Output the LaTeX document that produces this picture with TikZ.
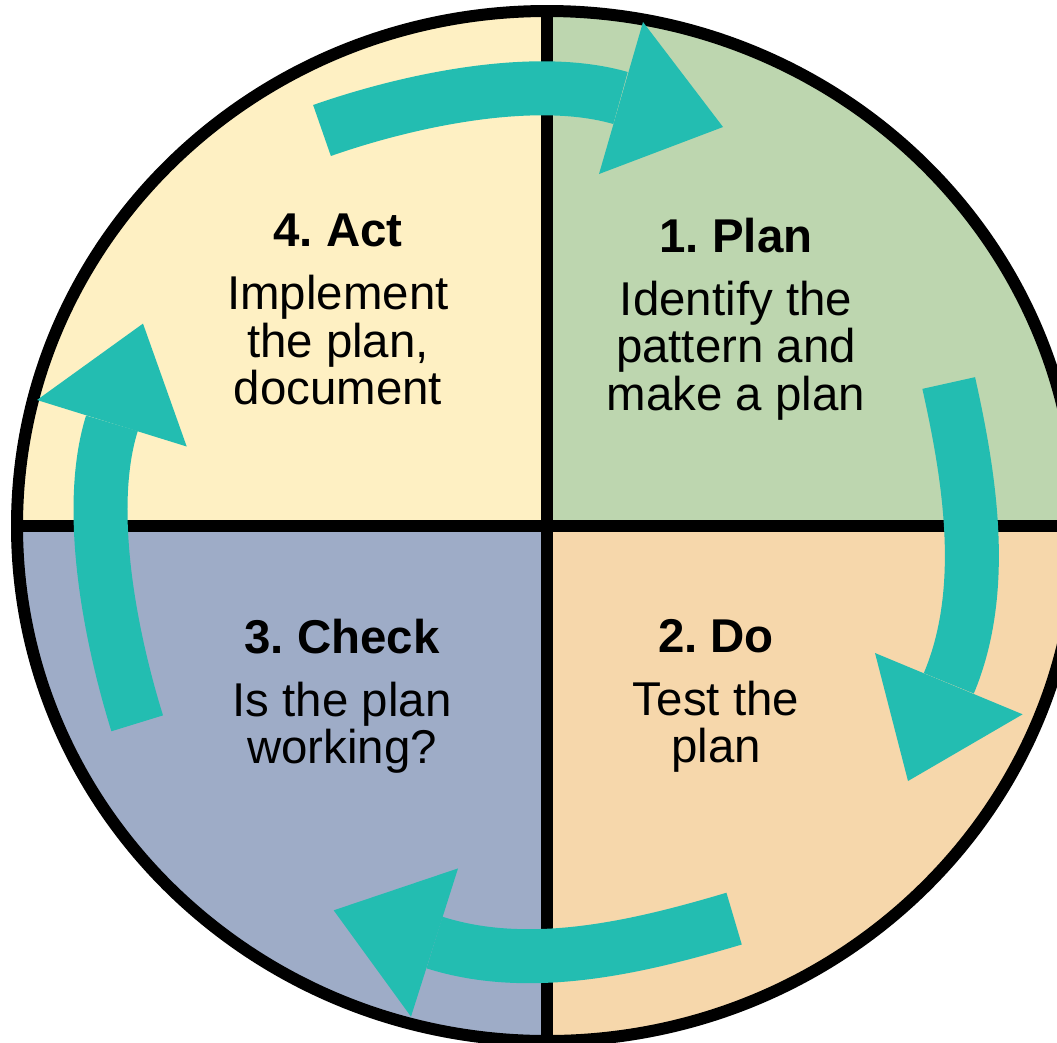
\documentclass[tikz,border=0pt]{standalone}
\usepackage{fontspec}
\setmainfont{Liberation Sans}
\frenchspacing

\definecolor{actyellow}{HTML}{FEF0C3}
\definecolor{plangreen}{HTML}{BDD6AF}
\definecolor{dopeach}{HTML}{F6D7AB}
\definecolor{checkblue}{HTML}{9EACC7}
\definecolor{cycleteal}{HTML}{23BDB1}

\tikzset{
  stage/.style={align=center, inner sep=0pt, anchor=north,
    font=\fontsize{27}{27}\selectfont},
  shaft/.style={draw=cycleteal, line width=1.08cm},
  head/.style={fill=cycleteal},
}

\begin{document}
\begin{tikzpicture}[x=0.02cm, y=-0.02cm]
  \useasboundingbox (0,0) rectangle (1057,1042);
  \clip (0,0) rectangle (1057,1042);

  % four quadrants
  \begin{scope}
    \clip (547,526) ellipse [x radius=530, y radius=515];
    \fill [actyellow] (0,0) rectangle (547,526);
    \fill [plangreen] (547,0) rectangle (1100,526);
    \fill [checkblue] (0,526) rectangle (547,1100);
    \fill [dopeach] (547,526) rectangle (1100,1100);
    \draw [line width=0.24cm] (547,0) -- (547,1100);
    \draw [line width=0.24cm] (0,526) -- (1100,526);
  \end{scope}
  \draw [line width=0.24cm] (547,526) ellipse [x radius=530, y radius=515];

  % texts
  \node [stage] (act) at (338,214) {\textbf{4. Act}\\[8.7pt]Implement\\the plan,\\document};
  \node [stage] (plan) at (736,218) {\textbf{1. Plan}\\[8.7pt]Identify the\\pattern and\\make a plan};
  \node [stage] (check) at (342,619) {\textbf{3. Check}\\[8.7pt]Is the plan\\working?};
  \node [stage] (do) at (716,619) {\textbf{2. Do}\\[8.7pt]Test the\\plan};

  % act -> plan
  \draw [shaft] (322,130.5) .. controls (406.6,100.8) and (534,73) .. (620.5,98);
  \fill [head] (643,22) -- (723,127) -- (599,174) -- cycle;

  % plan -> do
  \draw [shaft] (948.7,383) .. controls (970.5,480.6) and (987.5,591.1) .. (948.8,683.3);
  \fill [head] (875,653) -- (908,781) -- (1022.6,714.3) -- cycle;

  % do -> check
  \draw [shaft] (734.1,918.6) .. controls (638.2,947.1) and (529.8,972.9) .. (434.5,942.5);
  \fill [head] (458,868.4) -- (333.7,910.3) -- (411,1016.6) -- cycle;

  % check -> act
  \draw [shaft] (137.2,723.3) .. controls (110.5,637.4) and (85.1,509.3) .. (111.9,423.3);
  \fill [head] (37,400) -- (143,323.6) -- (186.7,446.5) -- cycle;
\end{tikzpicture}
\end{document}
